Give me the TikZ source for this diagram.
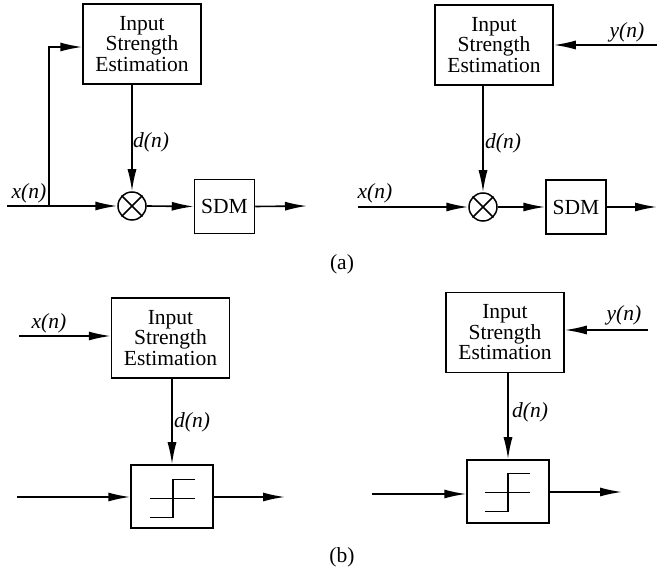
\documentclass[tikz,border=0pt]{standalone}
\usepackage{fontspec}
\setmainfont{Liberation Serif}
\usetikzlibrary{arrows.meta}
\begin{document}
\begin{tikzpicture}[x=1pt,y=-1pt,
  every node/.style={font=\fontsize{21.5}{20.5}\selectfont},
  blk/.style={draw,line width=1.5pt,rectangle,inner sep=0pt,align=center},
  est/.style={blk,minimum width=118pt,minimum height=80pt},
  sdm/.style={blk,minimum width=60pt,minimum height=54pt},
  quant/.style={blk,minimum width=82pt,minimum height=63pt},
  mult/.style={draw,line width=1.5pt,circle,inner sep=0pt,minimum size=28pt},
  sig/.style={inner sep=0pt,font=\fontsize{21.5}{20.5}\selectfont\itshape},
  wire/.style={line width=1.6pt},
  flow/.style={wire,-{Latex[length=22pt,width=9pt]}},
  stair/.style={line width=1.5pt}
]
\useasboundingbox (0,0) rectangle (657,569);

% ---------- (a) left: feed-forward gain control ----------
\node[est] (e1) at (142,44) {Input\\Strength\\Estimation};
\node[mult] (m1) at (132,206) {};
\draw[wire] (m1.north east) -- (m1.south west) (m1.north west) -- (m1.south east);
\node[sdm] (s1) at (224.5,206.5) {SDM};
\coordinate (xin1) at (7,206);
\coordinate (br1) at (49,206);
\coordinate (bu1) at (49,47);
\coordinate (o1) at (307,206);
\draw[wire] (xin1) -- (br1);
\draw[flow] (br1) -- (m1.west);
\draw[flow] (br1) -- (bu1) -- (e1.west |- bu1);
\draw[flow] (e1.south -| m1.north) -- (m1.north);
\draw[flow] (m1.east) -- (s1.west);
\draw[flow] (s1.east) -- (o1);
\node[sig] (x1) at (29,193) {x(n)};
\node[sig] (d1) at (151,142) {d(n)};

% ---------- (a) right: feedback gain control ----------
\node[est] (e2) at (494,45) {Input\\Strength\\Estimation};
\node[mult] (m2) at (483,207) {};
\draw[wire] (m2.north east) -- (m2.south west) (m2.north west) -- (m2.south east);
\node[sdm] (s2) at (576,207) {SDM};
\coordinate (yin2) at (657,45);
\coordinate (xin2) at (358,207);
\coordinate (o2) at (657,207);
\draw[flow] (yin2) -- (e2.east |- yin2);
\draw[flow] (e2.south -| m2.north) -- (m2.north);
\draw[flow] (xin2) -- (m2.west);
\draw[flow] (m2.east) -- (s2.west);
\draw[flow] (s2.east) -- (o2);
\node[sig] (y2) at (627,32) {y(n)};
\node[sig] (x2) at (375,193) {x(n)};
\node[sig] (d2) at (503,143) {d(n)};

\node[inner sep=0pt] (la) at (342,264) {(a)};

% ---------- (b) left: feed-forward quantizer scaling ----------
\node[est] (e3) at (170.5,338) {Input\\Strength\\Estimation};
\node[quant] (q1) at (172,496.5) {};
\coordinate (xin3) at (19,336);
\coordinate (qin1) at (17,497);
\coordinate (qo1) at (285,497);
\draw[flow] (xin3) -- (e3.west |- xin3);
\draw[flow] (e3.south -| q1.north) -- (q1.north);
\draw[flow] (qin1) -- (q1.west |- qin1);
\draw[flow] (q1.east |- qo1) -- (qo1);
\begin{scope}[shift={(q1.center)}]
  \draw[stair] (-22,21) -- (1,21) -- (1,-17) -- (23,-17);
  \draw[stair] (-22,2) -- (23,2);
\end{scope}
\node[sig] (x3) at (49,323) {x(n)};
\node[sig] (d3) at (192,422) {d(n)};

% ---------- (b) right: feedback quantizer scaling ----------
\node[est] (e4) at (505,332.5) {Input\\Strength\\Estimation};
\node[quant] (q2) at (508,491.5) {};
\coordinate (yin4) at (648,330);
\coordinate (qin2) at (372,494);
\coordinate (qo2) at (622,492);
\draw[flow] (yin4) -- (e4.east |- yin4);
\draw[flow] (e4.south -| q2.north) -- (q2.north);
\draw[flow] (qin2) -- (q2.west |- qin2);
\draw[flow] (q2.east |- qo2) -- (qo2);
\begin{scope}[shift={(q2.center)}]
  \draw[stair] (-23,20) -- (0,20) -- (0,-18) -- (22,-18);
  \draw[stair] (-23,1) -- (22,1);
\end{scope}
\node[sig] (y4) at (624,315) {y(n)};
\node[sig] (d4) at (530,412) {d(n)};

\node[inner sep=0pt] (lb) at (342,557) {(b)};
\end{tikzpicture}
\end{document}
